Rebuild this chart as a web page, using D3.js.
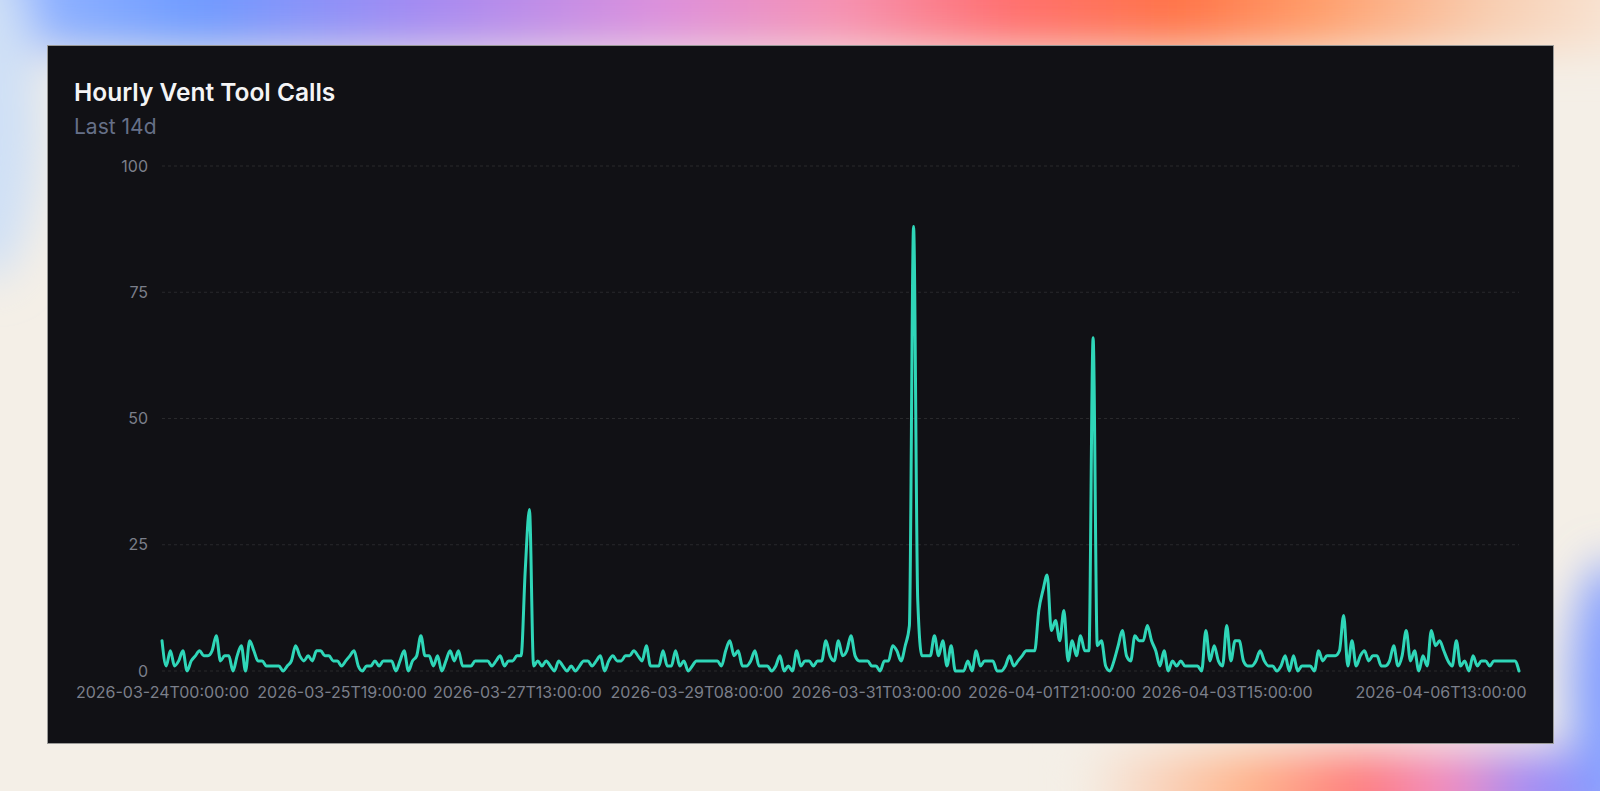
<!DOCTYPE html>
<html><head><meta charset="utf-8">
<script src="https://cdn.jsdelivr.net/npm/d3@7"></script>
<style>
html,body{margin:0;padding:0;width:1600px;height:791px;overflow:hidden;background:#f4efe7}
svg{display:block}
text{font-family:Inter,"Noto Sans",sans-serif}
</style>
</head><body>
<svg id="c" width="1600" height="791"></svg>
<script>
// ---- data ----
const title = "Hourly Vent Tool Calls";
const subtitle = "Last 14d";
const startHour = "2026-03-24T00:00:00";
const calls = [
 6,1,4,1,2,4,0,2,3,4, 3,3,4,7,2,3,3,0,3,5, 0,6,4,2,2,1,1,1,1,0,
 1,2,5,3,2,3,2,4,4,3, 3,2,2,1,2,3,4,1,0,1, 1,2,1,2,2,2,0,2,4,0,
 2,3,7,3,3,1,3,0,2,4, 2,4,1,1,1,2,2,2,2,1, 2,3,1,2,2,3,3,20,32,1,
 2,1,2,1,0,2,1,0,1,0, 1,2,2,1,2,3,0,2,3,2, 2,3,3,4,3,2,5,1,1,1,
 4,1,1,4,1,2,0,1,2,2, 2,2,2,2,1,4,6,3,4,1, 1,2,4,1,1,1,0,1,3,0,
 1,0,4,1,2,2,1,2,2,6, 3,2,6,3,4,7,3,2,2,2, 1,1,0,2,2,5,4,2,5,9,
 88,14,3,3,3,7,3,6,1,5, 0,0,0,2,0,4,1,2,2,2, 0,0,1,3,1,2,3,4,4,4,
 12,16,19,8,10,6,12,2,6,3, 7,4,4,66,5,6,1,0,2,5, 8,3,2,7,6,6,9,6,4,1,
 4,0,2,1,2,1,1,1,1,0, 8,2,5,2,1,9,2,6,6,2, 1,1,2,4,2,1,1,0,1,3,
 0,3,0,1,1,1,0,4,2,3, 3,3,4,11,1,6,1,3,4,2, 3,3,1,1,2,5,1,3,8,2,
 4,0,3,1,8,5,6,4,2,1, 6,1,2,0,3,1,2,2,1,2, 2,2,2,2,2,0
];
const yTicks = [0, 25, 50, 75, 100];
const xTickLabels = [
 "2026-03-24T00:00:00","2026-03-25T19:00:00","2026-03-27T13:00:00",
 "2026-03-29T08:00:00","2026-03-31T03:00:00","2026-04-01T21:00:00",
 "2026-04-03T15:00:00","2026-04-06T13:00:00"
];

// ---- build ----
const parse = d3.utcParse("%Y-%m-%dT%H:%M:%S");
const fmt = d3.utcFormat("%Y-%m-%dT%H:%M:%S");
const t0 = parse(startHour);
const hours = calls.map((v, i) => fmt(d3.utcHour.offset(t0, i)));
const rows = calls.map((v, i) => ({ t: hours[i], v }));

const svg = d3.select("#c");
const defs = svg.append("defs");

// background
const blur = defs.append("filter").attr("id","blur").attr("x","-50%").attr("y","-50%").attr("width","200%").attr("height","200%");
blur.append("feGaussianBlur").attr("stdDeviation", 22);
const gTop = defs.append("linearGradient").attr("id","gTop");
[["0%","#e6eef8"],["6%","#8fb2ff"],["15%","#6f9bff"],["28%","#a48af2"],["42%","#dc90dc"],["52%","#f593b4"],["62%","#ff7070"],["72%","#ff7448"],["80%","#ff9d6a"],["90%","#f8cdb0"],["100%","#f8ece0"]]
 .forEach(([o,c]) => gTop.append("stop").attr("offset",o).attr("stop-color",c));
const gBot = defs.append("linearGradient").attr("id","gBot");
[["0%","#f4efe7"],["30%","#ffb38a"],["50%","#ff7a7a"],["66%","#f08ac0"],["80%","#a08af5"],["100%","#7f9cff"]]
 .forEach(([o,c]) => gBot.append("stop").attr("offset",o).attr("stop-color",c));

const bg = svg.append("g").attr("filter","url(#blur)");
bg.append("rect").attr("x",-60).attr("y",-60).attr("width",1720).attr("height",110).attr("fill","url(#gTop)");
bg.append("ellipse").attr("cx",-10).attr("cy",120).attr("rx",50).attr("ry",160).attr("fill","#cfe0f6");
bg.append("rect").attr("x",1080).attr("y",752).attr("width",560).attr("height",80).attr("fill","url(#gBot)");
bg.append("ellipse").attr("cx",1610).attr("cy",690).attr("rx",40).attr("ry",130).attr("fill","#86a0ff");

// panel
svg.append("rect").attr("x",47.5).attr("y",45.5).attr("width",1506).attr("height",698)
  .attr("fill","#111115").attr("stroke","#9a9a98").attr("stroke-width",1);

svg.append("text").attr("x",74).attr("y",101).attr("fill","#f4f4f5")
  .attr("font-size",24.5).attr("font-weight",600).text(title);
svg.append("text").attr("x",74).attr("y",134).attr("fill","#667088")
  .attr("font-size",21).attr("font-weight",400).text(subtitle);

// scales
const x = d3.scalePoint().domain(hours).range([162, 1519]);
const y = d3.scaleLinear().domain([0, 100]).range([671, 166]);

// grid
svg.append("g").selectAll("line").data(yTicks).join("line")
  .attr("x1",162).attr("x2",1519).attr("y1",d=>y(d)).attr("y2",d=>y(d))
  .attr("stroke","rgba(255,255,255,0.1)").attr("stroke-dasharray","3 3");

// axes
const yAxis = svg.append("g").attr("transform","translate(162,0)")
  .call(d3.axisLeft(y).tickValues(yTicks).tickSize(0).tickPadding(14));
yAxis.select(".domain").remove();
yAxis.selectAll("text").attr("fill","#7b7f8a").attr("font-size",16).attr("font-family","Inter");

const xAxis = svg.append("g").attr("transform","translate(0,671)")
  .call(d3.axisBottom(x).tickValues(xTickLabels).tickSize(0).tickPadding(15.5));
xAxis.select(".domain").remove();
xAxis.selectAll("text").attr("fill","#7b7f8a").attr("font-size",16).attr("font-family","Inter");
// keep tick labels inside the chart area (end label is shifted in)
xAxis.selectAll(".tick").each(function(d){
  const t = d3.select(this).select("text");
  const w = t.node().getComputedTextLength();
  const cx = x(d);
  const right = cx + w/2, maxRight = 1526;
  if (right > maxRight) t.attr("x", maxRight - right);
});

// line
svg.append("path").datum(rows)
  .attr("fill","none").attr("stroke","#2fd6b8").attr("stroke-width",3)
  .attr("stroke-linejoin","round").attr("stroke-linecap","round")
  .attr("d", d3.line().x(d=>x(d.t)).y(d=>y(d.v)).curve(d3.curveMonotoneX));
</script>
</body></html>
